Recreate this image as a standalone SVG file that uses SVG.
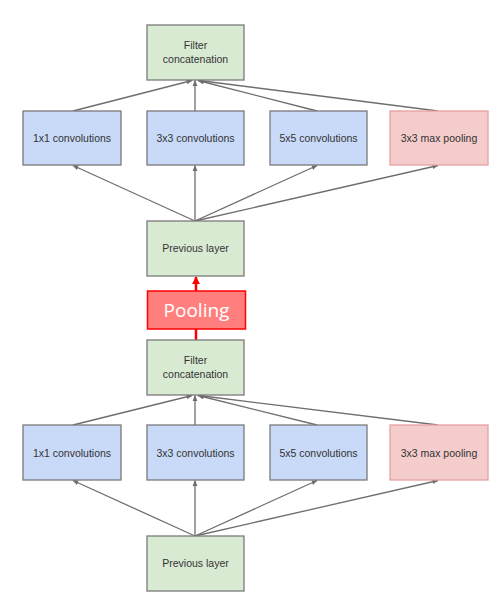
<svg xmlns="http://www.w3.org/2000/svg" width="501" height="600" viewBox="0 0 501 600">
<defs>
<style>
.g{fill:#d9ead3;stroke:#7a7a7a;stroke-width:1.3}
.b{fill:#c9daf8;stroke:#7a7a7a;stroke-width:1.3}
.p{fill:#f4cccc;stroke:#e8a0a0;stroke-width:1.3}
.t{font-family:"Liberation Sans",Arial,sans-serif;font-size:10.5px;fill:#333;text-anchor:middle}
.c{stroke:#6e6e6e;stroke-width:1.3;fill:none;marker-end:url(#ah)}
</style>
<marker id="ah" viewBox="0 0 10 10" refX="9" refY="5" markerWidth="6" markerHeight="6" markerUnits="userSpaceOnUse" orient="auto"><path d="M0,1 L10,5 L0,9 z" fill="#6e6e6e"/></marker>
<marker id="rh" viewBox="0 0 10 10" refX="9" refY="5" markerWidth="8" markerHeight="8" markerUnits="userSpaceOnUse" orient="auto"><path d="M0,0 L10,5 L0,10 z" fill="#ff0000"/></marker>
</defs>
<rect width="501" height="600" fill="#ffffff"/>
<g id="connectors">
<line class="c" x1="73" y1="111" x2="192" y2="80.5"/>
<line class="c" x1="195" y1="111" x2="195" y2="80.5"/>
<line class="c" x1="317" y1="111" x2="198" y2="80.5"/>
<line class="c" x1="438" y1="111" x2="199" y2="80.5"/>
<line class="c" x1="195" y1="221" x2="73" y2="165.5"/>
<line class="c" x1="195" y1="221" x2="195" y2="165.5"/>
<line class="c" x1="195" y1="221" x2="317" y2="165.5"/>
<line class="c" x1="195" y1="221" x2="438" y2="165.5"/>
<line class="c" x1="73" y1="425" x2="192" y2="395.5"/>
<line class="c" x1="195" y1="425" x2="195" y2="395.5"/>
<line class="c" x1="317" y1="425" x2="198" y2="395.5"/>
<line class="c" x1="438" y1="425" x2="199" y2="395.5"/>
<line class="c" x1="195" y1="536" x2="73" y2="480.5"/>
<line class="c" x1="195" y1="536" x2="195" y2="480.5"/>
<line class="c" x1="195" y1="536" x2="317" y2="480.5"/>
<line class="c" x1="195" y1="536" x2="438" y2="480.5"/>
<line x1="196" y1="291" x2="196" y2="277" stroke="#ff0000" stroke-width="2.5" marker-end="url(#rh)"/>
<line x1="196" y1="329" x2="196" y2="341" stroke="#ff0000" stroke-width="2.5"/>
</g>
<g id="concat_top"><rect class="g" x="147" y="25" width="97" height="55"/><text class="t" x="195.5" y="49">Filter</text><text class="t" x="195.5" y="63">concatenation</text></g>
<g id="conv1_top"><rect class="b" x="23" y="111" width="98" height="54"/><text class="t" x="72" y="142">1x1 convolutions</text></g>
<g id="conv3_top"><rect class="b" x="147" y="111" width="97" height="54"/><text class="t" x="195.5" y="142">3x3 convolutions</text></g>
<g id="conv5_top"><rect class="b" x="270" y="111" width="97" height="54"/><text class="t" x="318.5" y="142">5x5 convolutions</text></g>
<g id="maxpool_top"><rect class="p" x="390" y="111" width="98" height="54"/><text class="t" x="439" y="142">3x3 max pooling</text></g>
<g id="prev_top"><rect class="g" x="147" y="221" width="97" height="55"/><text class="t" x="195.5" y="252">Previous layer</text></g>
<g id="pooling"><rect x="147.5" y="291" width="98" height="38" fill="#ff7f7f" stroke="#ff0000" stroke-width="1.5"/><text x="196.5" y="317" font-family="'Open Sans','Noto Sans',sans-serif" font-size="19" fill="#ffffff" text-anchor="middle">Pooling</text></g>
<g id="concat_bottom"><rect class="g" x="147" y="340" width="97" height="55"/><text class="t" x="195.5" y="364">Filter</text><text class="t" x="195.5" y="378">concatenation</text></g>
<g id="conv1_bottom"><rect class="b" x="23" y="425" width="98" height="55"/><text class="t" x="72" y="457">1x1 convolutions</text></g>
<g id="conv3_bottom"><rect class="b" x="147" y="425" width="97" height="55"/><text class="t" x="195.5" y="457">3x3 convolutions</text></g>
<g id="conv5_bottom"><rect class="b" x="270" y="425" width="97" height="55"/><text class="t" x="318.5" y="457">5x5 convolutions</text></g>
<g id="maxpool_bottom"><rect class="p" x="390" y="425" width="98" height="55"/><text class="t" x="439" y="457">3x3 max pooling</text></g>
<g id="prev_bottom"><rect class="g" x="147" y="536" width="97" height="55"/><text class="t" x="195.5" y="567">Previous layer</text></g>
</svg>
